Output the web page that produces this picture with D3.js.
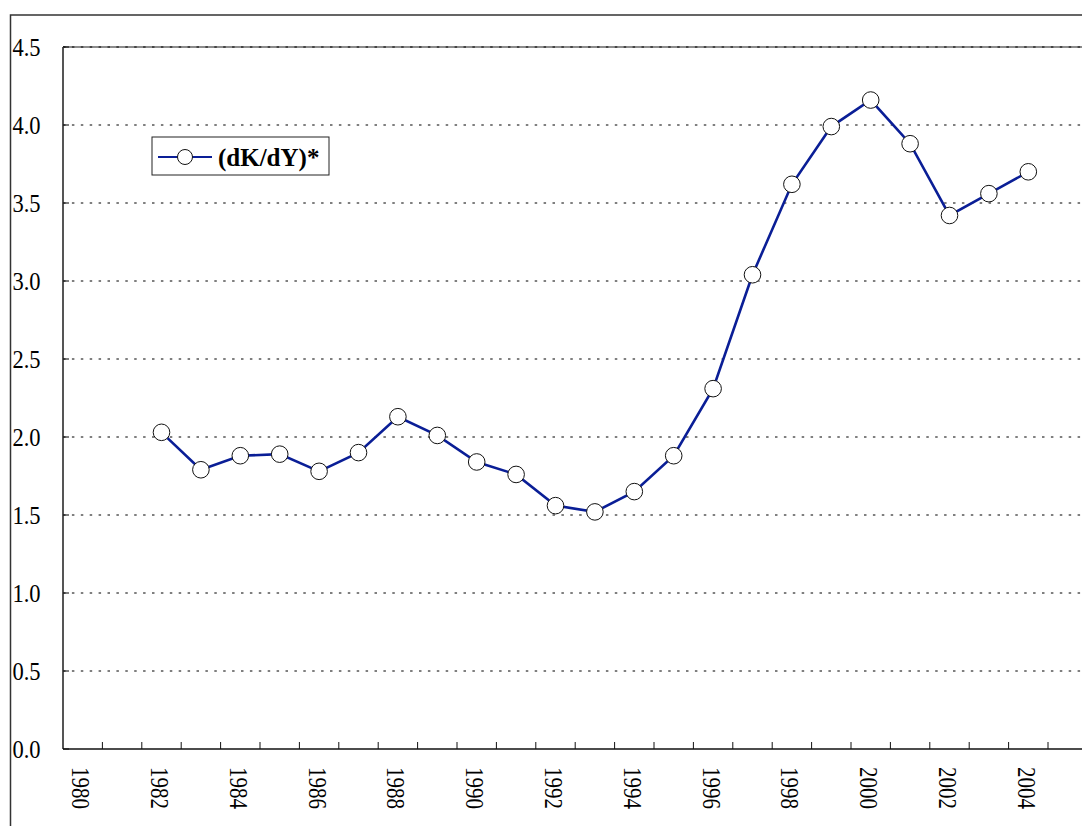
<!DOCTYPE html>
<html>
<head>
<meta charset="utf-8">
<script src="https://cdn.jsdelivr.net/npm/d3@7"></script>
<style>
  body { margin: 0; background: #fff; }
</style>
</head>
<body>
<div id="chart"></div>
<script>
// categories on the x axis (one band per year)
const years = d3.range(1980, 2006).map(String);
const xLabels = ['1980','1982','1984','1986','1988','1990','1992','1994','1996','1998','2000','2002','2004'];
const yTicks = [0, 0.5, 1.0, 1.5, 2.0, 2.5, 3.0, 3.5, 4.0, 4.5];

// series
const seriesName = '(dK/dY)*';
const seriesYears = ['1982','1983','1984','1985','1986','1987','1988','1989','1990','1991','1992','1993',
                     '1994','1995','1996','1997','1998','1999','2000','2001','2002','2003','2004'];
const seriesValues = [2.03, 1.79, 1.88, 1.89, 1.78, 1.90, 2.13, 2.01, 1.84, 1.76, 1.56, 1.52,
                      1.65, 1.88, 2.31, 3.04, 3.62, 3.99, 4.16, 3.88, 3.42, 3.56, 3.70];

const w = 1082;
const h = 826;
const padLeft = 63, padTop = 47, axisY = 749;
const band = 39.4;
const lineColor = '#0a1e96';
const serif = '"Liberation Serif", "Times New Roman", Times, serif';

const x = d3.scaleBand()
  .domain(years)
  .range([padLeft, padLeft + band * years.length])
  .padding(0);

const y = d3.scaleLinear()
  .domain([0, 4.5])
  .range([axisY, padTop]);

const svg = d3.select('#chart')
  .append('svg')
  .attr('width', w)
  .attr('height', h);

// outer chart frame (runs off the picture on the right and bottom)
svg.append('rect')
  .attr('x', 10.5).attr('y', 15)
  .attr('width', w + 20).attr('height', h + 20)
  .attr('fill', 'none')
  .attr('stroke', '#333')
  .attr('stroke-width', 1.5);

const xMax = x.range()[1];

// top line of the plot area
svg.append('line')
  .attr('x1', padLeft).attr('x2', xMax)
  .attr('y1', y(4.5)).attr('y2', y(4.5))
  .attr('stroke', '#666').attr('stroke-width', 1.5);

// gridlines
svg.selectAll('.grid')
  .data(yTicks.filter(d => d > 0))
  .enter()
  .append('line')
  .attr('class', 'grid')
  .attr('x1', padLeft).attr('x2', xMax)
  .attr('y1', d => y(d)).attr('y2', d => y(d))
  .attr('stroke', '#000')
  .attr('stroke-width', 1)
  .attr('stroke-dasharray', '2.5,6.4');

// y axis
svg.append('line')
  .attr('x1', padLeft).attr('x2', padLeft)
  .attr('y1', y(4.5)).attr('y2', y(0))
  .attr('stroke', '#555').attr('stroke-width', 2);

svg.selectAll('.ytick')
  .data(yTicks)
  .enter()
  .append('line')
  .attr('x1', padLeft).attr('x2', padLeft + 6)
  .attr('y1', d => y(d)).attr('y2', d => y(d))
  .attr('stroke', '#000').attr('stroke-width', 1);

svg.selectAll('.ylabel')
  .data(yTicks)
  .enter()
  .append('text')
  .attr('transform', d => `translate(12.5,${y(d)}) scale(0.9,1)`)
  .attr('dy', '0.34em')
  .attr('font-family', serif)
  .attr('font-size', 25)
  .text(d => d.toFixed(1));

// x axis
svg.append('line')
  .attr('x1', padLeft).attr('x2', xMax)
  .attr('y1', axisY).attr('y2', axisY)
  .attr('stroke', '#111').attr('stroke-width', 1.5);

// ticks sit on the band boundaries
svg.selectAll('.xtick')
  .data(years.slice(1))
  .enter()
  .append('line')
  .attr('x1', d => x(d)).attr('x2', d => x(d))
  .attr('y1', axisY).attr('y2', axisY - 7)
  .attr('stroke', '#111').attr('stroke-width', 1);

svg.selectAll('.xlabel')
  .data(xLabels)
  .enter()
  .append('text')
  .attr('transform', d => `translate(${x(d) + x.bandwidth() / 2 - 2},767) rotate(90) scale(0.84,1)`)
  .attr('dy', '0.34em')
  .attr('font-family', serif)
  .attr('font-size', 25)
  .text(d => d);

// series line + markers
const pts = seriesYears.map((yr, i) => [x(yr) + x.bandwidth() / 2, y(seriesValues[i])]);

svg.append('path')
  .attr('d', d3.line()(pts))
  .attr('fill', 'none')
  .attr('stroke', lineColor)
  .attr('stroke-width', 2.6);

svg.selectAll('.dot')
  .data(pts)
  .enter()
  .append('circle')
  .attr('cx', d => d[0])
  .attr('cy', d => d[1])
  .attr('r', 8.3)
  .attr('fill', '#fff')
  .attr('stroke', '#111')
  .attr('stroke-width', 1);

// legend
const lg = svg.append('g').attr('transform', 'translate(152,137)');
lg.append('rect')
  .attr('width', 177).attr('height', 38)
  .attr('fill', '#fff')
  .attr('stroke', '#222').attr('stroke-width', 1);
lg.append('line')
  .attr('x1', 6).attr('x2', 60).attr('y1', 20).attr('y2', 20)
  .attr('stroke', lineColor).attr('stroke-width', 2);
lg.append('circle')
  .attr('cx', 33).attr('cy', 20).attr('r', 7.5)
  .attr('fill', '#fff').attr('stroke', '#111').attr('stroke-width', 1);
lg.append('text')
  .attr('x', 66).attr('y', 20)
  .attr('dy', '0.34em')
  .attr('font-family', serif)
  .attr('font-size', 25)
  .attr('font-weight', 'bold')
  .text(seriesName);
</script>
</body>
</html>
